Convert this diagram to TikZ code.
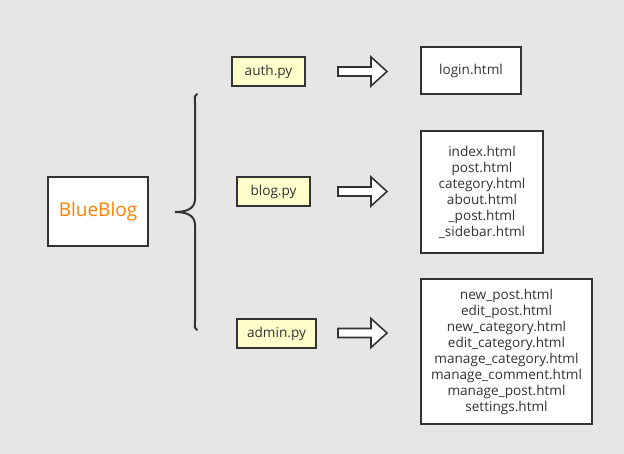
\documentclass[tikz,border=0pt]{standalone}
\usepackage{fontspec}
\setmainfont{Open Sans}
\usetikzlibrary{positioning}
\definecolor{fondo}{HTML}{E6E6E6}
\definecolor{borde}{HTML}{333333}
\definecolor{amarillo}{HTML}{FFFFCC}
\definecolor{naranja}{HTML}{FF8000}
\begin{document}
\begin{tikzpicture}[x=1pt, y=-1pt,
  caja/.style={rectangle, draw=borde, line width=2pt, fill=white, align=center, inner sep=0pt, text=borde, font=\fontsize{13.6}{16}\selectfont},
  modulo/.style={caja, fill=amarillo, minimum height=29},
  flecha/.pic={\draw[line width=1.6pt, draw=borde, fill=white, line join=miter] (0,-4.5) -- (33,-4.5) -- (33,-14.5) -- (49,0) -- (33,14.5) -- (33,4.5) -- (0,4.5) -- cycle;}]
        % fondo
        \fill[fondo] (0,0) rectangle (624,454);
        % proyecto
        \node[caja, minimum width=100, minimum height=69, text=naranja, font=\fontsize{19}{22}\selectfont] (blueblog) at (98,212) {BlueBlog};
        % llave
        \draw[line width=2pt, borde, line cap=round] (197,94) .. controls (194.5,96) .. (195,103) -- (195,199)
            .. controls (195,209) and (186,212) .. (175,212)
            .. controls (186,212) and (195,215) .. (195,225) -- (195,321)
            .. controls (194.5,328) .. (197,330);
        % modulos
        \node[modulo, minimum width=73] (auth) at (268.5,71.5) {auth.py};
        \node[modulo, minimum width=73] (blog) at (273.5,191.5) {blog.py};
        \node[modulo, minimum width=79] (admin) at (276.5,333.5) {admin.py};
        % flechas
        \pic at (338,71.5) {flecha};
        \pic at (338,191.5) {flecha};
        \pic at (338,333) {flecha};
        % plantillas
        \node[caja, minimum width=100, minimum height=47] (login) at (471,71) {login.html};
        \node[caja, minimum width=122, minimum height=122] (vistas) at (482,192.5) {index.html\\post.html\\category.html\\about.html\\\_post.html\\\_sidebar.html};
        \node[caja, minimum width=171, minimum height=145] (gestion) at (506.5,351.5) {new\_post.html\\edit\_post.html\\new\_category.html\\edit\_category.html\\manage\_category.html\\manage\_comment.html\\manage\_post.html\\settings.html};
\end{tikzpicture}
\end{document}
